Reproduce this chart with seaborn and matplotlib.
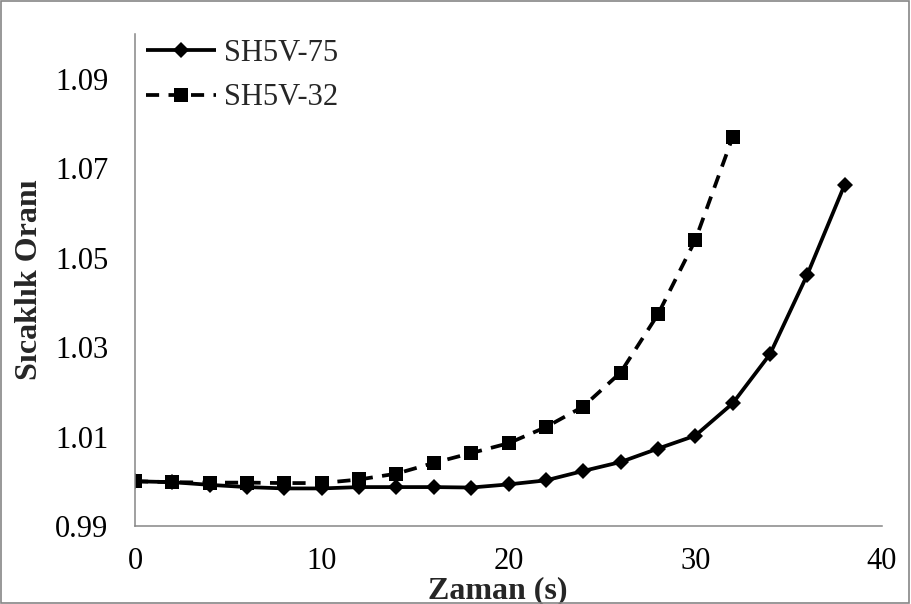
import numpy as np
import pandas as pd
import matplotlib
matplotlib.use("Agg")
import matplotlib.pyplot as plt
from matplotlib.patches import Rectangle
import seaborn as sns

# ---- data ----
time_75 = [0, 2, 4, 6, 8, 10, 12, 14, 16, 18, 20, 22, 24, 26, 28, 30, 32, 34, 36, 38]
ratio_75 = [1.0000, 0.9998, 0.9992, 0.9987, 0.9984, 0.9984, 0.9987, 0.9987, 0.9987, 0.9986,
            0.9993, 1.0002, 1.0023, 1.0043, 1.0073, 1.0102, 1.0174, 1.0284, 1.0462, 1.0663]
time_32 = [0, 2, 4, 6, 8, 10, 12, 14, 16, 18, 20, 22, 24, 26, 28, 30, 32]
ratio_32 = [1.0000, 0.9998, 0.9997, 0.9997, 0.9996, 0.9996, 1.0004, 1.0017, 1.0041, 1.0063,
            1.0085, 1.0121, 1.0167, 1.0243, 1.0373, 1.0539, 1.0769]
series_names = ["SH5V-75", "SH5V-32"]
x_ticks = [0, 10, 20, 30, 40]
y_ticks = [0.99, 1.01, 1.03, 1.05, 1.07, 1.09]
x_label = "Zaman (s)"
y_label = "Sıcaklık Oranı"

df = pd.concat([
    pd.DataFrame({"t": time_75, "r": ratio_75, "series": series_names[0]}),
    pd.DataFrame({"t": time_32, "r": ratio_32, "series": series_names[1]}),
], ignore_index=True)

sns.set_theme(style="white")
plt.rcParams["font.family"] = ["Liberation Serif", "DejaVu Serif"]

fig = plt.figure(figsize=(9.11, 6.04), dpi=100)
ax = fig.add_axes([135 / 911, 1 - 526 / 604, (882 - 135) / 911, (526 - 34) / 604])

sns.lineplot(
    data=df, x="t", y="r", hue="series", style="series",
    palette={series_names[0]: "black", series_names[1]: "black"},
    markers={series_names[0]: "D", series_names[1]: "s"},
    dashes={series_names[0]: "", series_names[1]: (3.5, 2.5)},
    linewidth=2.7, markersize=10.5, markeredgewidth=0,
    ax=ax, legend=True, sort=False,
)
# diamond size smaller than squares
for line in ax.lines:
    if line.get_marker() == "D":
        line.set_markersize(8.6)

ax.set_xlim(0, 40)
ax.set_ylim(0.99, 1.10)
ax.set_xticks(x_ticks)
ax.set_yticks(y_ticks)
ax.set_yticklabels([f"{v:.2f}" for v in y_ticks])
ax.set_xticklabels([str(v) for v in x_ticks])

gray = "#868686"
for s in ["top", "right"]:
    ax.spines[s].set_visible(False)
for s in ["left", "bottom"]:
    ax.spines[s].set_color(gray)
    ax.spines[s].set_linewidth(1.1)
ax.tick_params(axis="both", direction="out", length=7, width=1.1, color=gray,
               labelsize=22, labelcolor="black")
ax.tick_params(axis="y", pad=12)
ax.tick_params(axis="x", pad=8)
ax.grid(False)

ax.set_xlabel(x_label, fontsize=23, fontweight="bold")
ax.set_ylabel(y_label, fontsize=23, fontweight="bold", labelpad=8)
ax.xaxis.set_label_coords((498 - 135) / (882 - 135), -0.103)

for line in ax.lines:
    line.set_solid_capstyle("butt")

leg = ax.legend(
    loc="upper left", bbox_to_anchor=(-0.012, 1.03), frameon=False,
    fontsize=22, handlelength=2.3, handletextpad=0.25, labelspacing=0.5,
    borderaxespad=0.25,
)
leg.set_title(None)

fig.patches.append(Rectangle((0.001, 0.001), 0.997, 0.997, transform=fig.transFigure,
                             fill=False, edgecolor=gray, linewidth=1.2))

fig.savefig("out.png", dpi=100)
